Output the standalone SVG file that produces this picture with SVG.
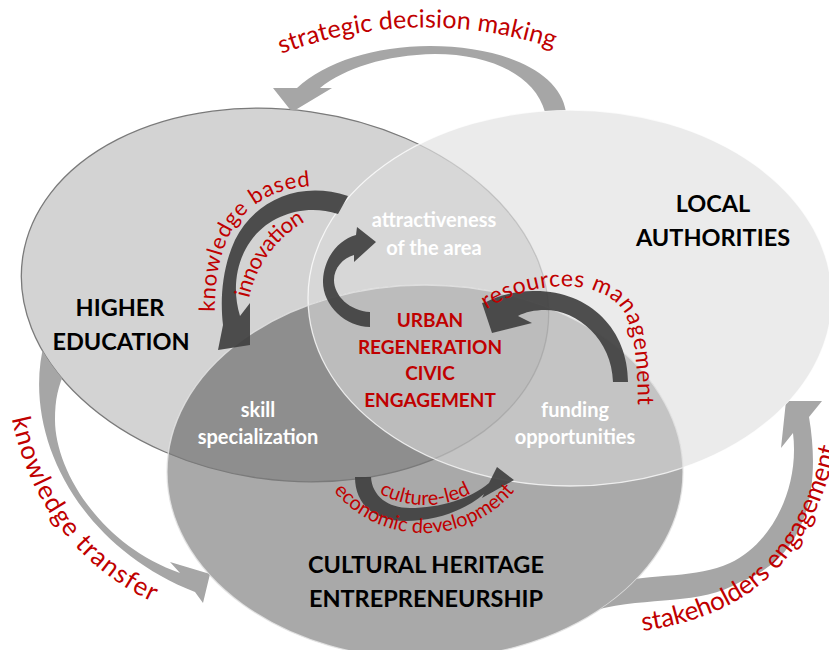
<svg xmlns="http://www.w3.org/2000/svg" width="829" height="650" viewBox="0 0 829 650">
<style>
text{font-family:Lato,"Open Sans","Liberation Sans",sans-serif}
.node{font-weight:700;font-size:23.5px;fill:#000;text-anchor:middle}
.ov{font-weight:700;font-size:20px;fill:#fff;text-anchor:middle}
.core{font-weight:700;font-size:19px;fill:#c00000;text-anchor:middle}
.flow{fill:#c00000;font-weight:400}
.lt{fill:#a6a6a6}
.dk{fill:#404040;fill-opacity:.92}
</style>
<defs>
<ellipse id="eHE" cx="285" cy="295" rx="265" ry="185" transform="rotate(8 285 295)"/>
<ellipse id="eLA" cx="570" cy="298" rx="262" ry="188"/>
<ellipse id="eCH" cx="425" cy="472" rx="258" ry="187"/>
<clipPath id="cHE"><use href="#eHE"/></clipPath>
<clipPath id="cLA"><use href="#eLA"/></clipPath>
<mask id="mOut" maskUnits="userSpaceOnUse" x="0" y="0" width="829" height="650">
<rect width="829" height="650" fill="#fff"/>
<use href="#eHE" fill="#000"/><use href="#eLA" fill="#000"/><use href="#eCH" fill="#000"/>
</mask>
<mask id="mHEline" maskUnits="userSpaceOnUse" x="0" y="0" width="829" height="650">
<rect width="829" height="650" fill="#fff"/>
<use href="#eLA" fill="#484848"/>
</mask>
<path id="tpSdm" d="M 270,58 Q 418,0 565,52"/>
<path id="tpKb" d="M 216,340 C 213,300 215,268 228,238 C 248,196 292,180 345,188"/>
<path id="tpInn" d="M 246,320 C 248,280 268,240 312,218"/>
<path id="tpRm" d="M 470,321 C 520,279 600,274 624,312 C 636,336 638,370 638,420"/>
<path id="tpCl" d="M 342.7,457.5 A 95 95 0 0 0 507.3,457.5"/>
<path id="tpEd" d="M 313.1,455.4 A 118 118 0 0 0 534.9,455.4"/>
<path id="tpKt" d="M 8,395 C 18,475 60,560 155,603"/>
<path id="tpSe" d="M 610,635 C 720,625 810,590 840,430"/>
</defs>

<g id="node-higher-education">
<use href="#eHE" fill="#d3d3d3"/>
<text class="node" x="120" y="316">HIGHER</text>
<text class="node" x="121" y="350">EDUCATION</text>
</g>

<g id="node-local-authorities">
<use href="#eLA" fill="#ebebeb"/>
<use href="#eLA" fill="#d7d7d7" clip-path="url(#cHE)"/>
<text class="node" x="713" y="212">LOCAL</text>
<text class="node" x="713" y="246">AUTHORITIES</text>
</g>

<g id="node-cultural-heritage">
<use href="#eCH" fill="#a9a9a9"/>
<g clip-path="url(#cHE)"><use href="#eCH" fill="#8e8e8e"/></g>
<g clip-path="url(#cLA)"><use href="#eCH" fill="#c4c4c4"/></g>
<g clip-path="url(#cHE)"><g clip-path="url(#cLA)"><use href="#eCH" fill="#bcbcbc"/></g></g>
<text class="node" x="426" y="573">CULTURAL HERITAGE</text>
<text class="node" x="426" y="607">ENTREPRENEURSHIP</text>
</g>

<g id="outlines" fill="none" stroke-width="1.3">
<use href="#eHE" stroke="#7a7a7a" mask="url(#mHEline)"/>
<use href="#eLA" stroke="#ffffff" stroke-opacity=".75"/>
<use href="#eCH" stroke="#e4e4e4" stroke-opacity=".85"/>
</g>

<g id="overlap-labels">
<text class="ov" x="434" y="227">attractiveness</text>
<text class="ov" x="434" y="255">of the area</text>
<text class="ov" x="258" y="417">skill</text>
<text class="ov" x="258" y="444">specialization</text>
<text class="ov" x="575" y="417">funding</text>
<text class="ov" x="575" y="444">opportunities</text>
<text class="core" x="430" y="327">URBAN</text>
<text class="core" x="430" y="354">REGENERATION</text>
<text class="core" x="430" y="380">CIVIC</text>
<text class="core" x="430" y="407">ENGAGEMENT</text>
</g>

<g id="connectors">
<g mask="url(#mOut)">
<path class="lt" d="M 567,125 L 566,112 C 560,70 500,46 430,46 C 375,46 325,62 297,88 L 273,88 L 292,112 L 332,88 L 320,88 C 345,68 385,55 435,54 C 490,54 535,75 545,112 L 546,125 Z"/>
<path class="lt" d="M 45,340 C 20,430 75,545 195,592 L 203,603 L 210,574 L 170,562 L 180,573 C 100,545 55,470 55,420 C 55,400 58,385 66,370 Z"/>
<path class="lt" d="M 595,610 C 650,596 700,606 740,582 C 800,560 823,500 809,417 L 822,401 L 786,401 L 781,448 L 793,433 C 800,490 770,545 730,563 C 695,579 660,572 600,585 Z"/>
</g>
<path class="dk" d="M 348,196 C 300,180 255,200 235,240 C 222,268 220,300 223,325 L 218,350 L 250,345 L 250,303 L 240,316 C 232,290 236,262 250,242 C 268,215 305,203 338,214 Z"/>
<path class="dk" d="M 370,327 C 345,327 322,305 323,280 C 324,258 338,240 356,235 L 357,227 L 376,242 L 354,262 L 354,255 C 343,258 334,268 334,280 C 334,296 350,311 370,312 Z"/>
<path class="dk" d="M 628,382 C 628,330 590,290 533,291 C 515,291 498,296 486,302 L 482,303 L 492,333 L 532,323 L 518,316 C 525,312 535,310 545,310 C 578,310 612,340 613,382 Z"/>
<path class="dk" d="M 355,477 C 355,505 375,521 405,521 C 437,521 465,510 484,494 L 482,498 L 514,480 L 497,467 L 489,483 C 470,499 440,508 410,508 C 388,508 372,496 371,477 Z"/>
</g>

<g id="connector-labels" class="flow">
<text font-size="25" textLength="278" lengthAdjust="spacing"><textPath href="#tpSdm" startOffset="50%" text-anchor="middle">strategic decision making</textPath></text>
<text font-size="22" textLength="178" lengthAdjust="spacing"><textPath href="#tpKb" startOffset="28">knowledge based</textPath></text>
<text font-size="22" textLength="98" lengthAdjust="spacing"><textPath href="#tpInn" startOffset="22">innovation</textPath></text>
<text font-size="23" textLength="245" lengthAdjust="spacing"><textPath href="#tpRm" startOffset="20">resources management</textPath></text>
<text font-size="20" textLength="96" lengthAdjust="spacing"><textPath href="#tpCl" startOffset="50%" text-anchor="middle">culture-led</textPath></text>
<text font-size="20" textLength="206" lengthAdjust="spacing"><textPath href="#tpEd" startOffset="50%" text-anchor="middle">economic development</textPath></text>
<text font-size="26" textLength="240" lengthAdjust="spacing"><textPath href="#tpKt" startOffset="24">knowledge transfer</textPath></text>
<text font-size="26" textLength="288" lengthAdjust="spacing"><textPath href="#tpSe" startOffset="33">stakeholders engagement</textPath></text>
</g>
</svg>
